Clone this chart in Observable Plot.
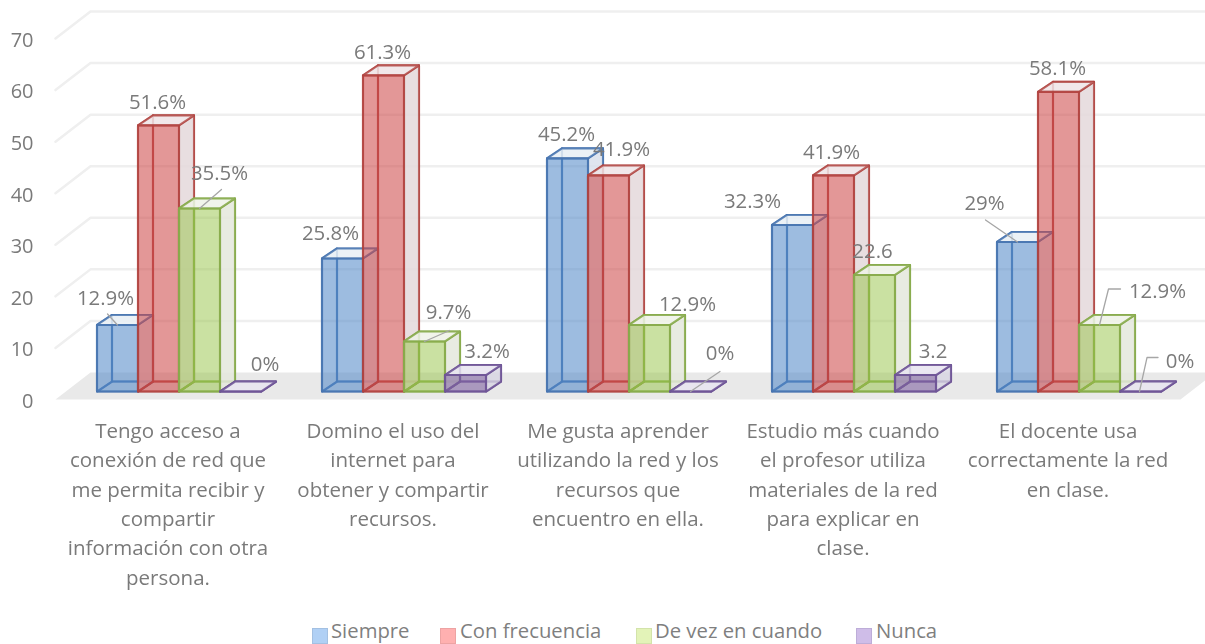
<!DOCTYPE html>
<html><head><meta charset="utf-8">
<script src="https://cdn.jsdelivr.net/npm/d3@7"></script>
<script src="https://cdn.jsdelivr.net/npm/@observablehq/plot@0.6"></script>
<style>
html,body{margin:0;padding:0;background:#fff;overflow:hidden;width:1205px;height:644px}
#legend{position:relative;height:32px;width:1205px;font:20.3px 'Open Sans',sans-serif;color:#7f7f7f;overflow:hidden}
#legend i{position:absolute;top:16px;width:14px;height:14px;border:1px solid}
#legend span{position:absolute;top:7px;height:22px;line-height:22px;white-space:nowrap}
svg{display:block;filter:blur(.45px)}
</style></head><body>
<div id="chart"></div><div id="legend"></div>
<script>
const categories = [
  "Tengo acceso a\nconexión de red que\nme permita recibir y\ncompartir\ninformación con otra\npersona.",
  "Domino el uso del\ninternet para\nobtener y compartir\nrecursos.",
  "Me gusta aprender\nutilizando la red y los\nrecursos que\nencuentro en ella.",
  "Estudio más cuando\nel profesor utiliza\nmateriales de la red\npara explicar en\nclase.",
  "El docente usa\ncorrectamente la red\nen clase."
];
const seriesNames = ["Siempre", "Con frecuencia", "De vez en cuando", "Nunca"];
const siempre = [12.9, 25.8, 45.2, 32.3, 29];
const conFrecuencia = [51.6, 61.3, 41.9, 41.9, 58.1];
const deVez = [35.5, 9.7, 12.9, 22.6, 12.9];
const nunca = [0, 3.2, 0, 3.2, 0];
const seriesValues = [siempre, conFrecuencia, deVez, nunca];
const valueLabels = [
  ["12.9%", "25.8%", "45.2%", "32.3%", "29%"],
  ["51.6%", "61.3%", "41.9%", "41.9%", "58.1%"],
  ["35.5%", "9.7%", "12.9%", "22.6", "12.9%"],
  ["0%", "3.2%", "0%", "3.2", "0%"]
];
const yTicks = [0, 10, 20, 30, 40, 50, 60, 70];

// placement of each value label, in pixels from the front top centre of its bar
const labelShift = [
  [[-12,-27],[-12,-25],[-1,-24],[-40,-23],[-33,-38]],
  [[-1,-23],[-1,-23],[13,-26],[-2,-23],[-1,-23]],
  [[20,-35],[24,-29],[38,-21],[-2,-23],[58,-34]],
  [[24.5,-27],[21.5,-23.5],[29.5,-38],[17.5,-23.5],[39.5,-30]]
];
// leader lines: series, category, points in pixels from the same anchor
const leaders = [
  [0,0,[[-10,-11],[0,0]]],
  [2,0,[[22,-19],[0,0]]],
  [2,1,[[25,-11],[0,0]]],
  [3,2,[[29.5,-20],[0,0]]],
  [0,4,[[-32,-22],[0,0]]],
  [2,4,[[21,-36],[9,-36],[0,0]]],
  [3,4,[[17.5,-34],[6.5,-34],[-1,0]]]
];

const frontFill = ["rgba(80,135,200,.56)", "rgba(205,70,70,.56)", "rgba(150,195,70,.5)", "rgba(128,100,162,.6)"];
const edge = ["rgba(70,115,175,.8)", "rgba(175,65,62,.75)", "rgba(135,170,75,.85)", "rgba(110,85,150,.85)"];
const sideFill = ["rgba(215,222,235,.8)", "rgba(228,216,219,.85)", "rgba(228,232,220,.85)", "rgba(215,212,226,.8)"];
const topFill = ["rgba(232,238,245,.85)", "rgba(238,228,230,.85)", "rgba(238,242,232,.85)", "rgba(232,228,240,.85)"];
const legendFill = ["#b0d0f5", "#ffb0b0", "#e3f3b8", "#cfbde8"];
const legendEdge = ["#a3c0e2", "#eda3a3", "#d3e3aa", "#bdadd8"];
const swatchLeft = [312, 440, 636, 856];
const textLeft = [331, 460, 655, 876];

const pxX = 225;          // pixels per category
const pxY = 5.16;         // pixels per value unit
const ux = p => p / pxX, uy = p => p / pxY;
const barW = ux(41), barDX = ux(15), barDY = uy(10), barBase = uy(8), barStart = ux(41.5);
const wallDX = ux(35), wallDY = uy(27);

const polys = [];
let pid = 0;
function poly(points, fill, stroke) {
  const z = pid++;
  for (const [x, y] of points) polys.push({x, y, z, fill, stroke});
}
seriesValues.forEach((vals, s) => vals.forEach((v, c) => {
  const x0 = c + barStart + s * barW, x1 = x0 + barW;
  const y0 = barBase, y1 = barBase + v;
  const P = (x, y, back) => back ? [x + barDX, y + barDY] : [x, y];
  poly([P(x0,y0,1),P(x1,y0,1),P(x1,y1,1),P(x0,y1,1)], "none", edge[s]);
  poly([P(x0,y0),P(x0,y0,1),P(x0,y1,1),P(x0,y1)], "none", edge[s]);
  poly([P(x0,y0),P(x1,y0),P(x1,y0,1),P(x0,y0,1)], "none", edge[s]);
  poly([P(x1,y0),P(x1,y0,1),P(x1,y1,1),P(x1,y1)], sideFill[s], edge[s]);
  poly([P(x0,y1),P(x1,y1),P(x1,y1,1),P(x0,y1,1)], topFill[s], edge[s]);
  poly([P(x0,y0),P(x1,y0),P(x1,y1),P(x0,y1)], frontFill[s], edge[s]);
}));

const floor = [[0,0],[wallDX,wallDY],[5+wallDX,wallDY],[5,0]].map(([x,y]) => ({x,y}));
const grid = yTicks.slice(1).flatMap(t => [
  {x:0, y:t, t}, {x:wallDX, y:t+wallDY, t}, {x:5+wallDX, y:t+wallDY, t}
]);
const anchor = (s, c) => [c + barStart + (s + .5) * barW, barBase + seriesValues[s][c]];
const labels = seriesValues.flatMap((vals, s) => vals.map((v, c) => {
  const [ax, ay] = anchor(s, c), [dx, dy] = labelShift[s][c];
  return {x: ax + ux(dx), y: ay - uy(dy), text: valueLabels[s][c]};
}));
const leaderPts = leaders.flatMap(([s, c, pts], i) => {
  const [ax, ay] = anchor(s, c);
  return pts.map(([dx, dy]) => ({x: ax + ux(dx), y: ay - uy(dy), i}));
});

const plot = Plot.plot({
  width: 1205, height: 612,
  marginLeft: 55, marginRight: 25, marginTop: 38, marginBottom: 213,
  x: {domain: [0, 5], axis: null},
  y: {domain: [0, 70], axis: null},
  style: {fontFamily: "'Open Sans',sans-serif", fontSize: "20px", background: "#fff", overflow: "hidden"},
  marks: [
    Plot.line(floor, {x:"x", y:"y", fill:"#e9e9e9", stroke:"none", curve:"linear-closed"}),
    Plot.line(grid, {x:"x", y:"y", z:"t", stroke:"#efefef", strokeWidth:2.5}),
    Plot.axisY({ticks: yTicks, tickSize: 0, tickPadding: 22, label: null, color: "#7a7a7a", fontSize: 20, dy: 2}),
    Plot.line(polys, {x:"x", y:"y", z:"z", fill:{value:"fill",scale:null}, stroke:{value:"stroke",scale:null}, strokeWidth:2.1, curve:"linear-closed"}),
    Plot.line(leaderPts, {x:"x", y:"y", z:"i", stroke:"#a6a6a6", strokeWidth:1.3}),
    Plot.text(labels, {x:"x", y:"y", text:"text", fill:"#7a7a7a", fontSize:20.4}),
    Plot.text(categories, {x:(d,i)=>i+.5, y:()=>0, text:d=>d, fill:"#7a7a7a", fontSize:20.5, lineAnchor:"top", lineHeight:29.4/20.5, dy:17.5})
  ]
});
document.getElementById("chart").append(plot);
const lg = document.getElementById("legend");
seriesNames.forEach((n, i) => {
  const sw = document.createElement("i");
  sw.style.left = swatchLeft[i] + "px";
  sw.style.background = legendFill[i];
  sw.style.borderColor = legendEdge[i];
  const t = document.createElement("span");
  t.style.left = textLeft[i] + "px";
  t.textContent = n;
  lg.append(sw, t);
});
</script>
</body></html>
